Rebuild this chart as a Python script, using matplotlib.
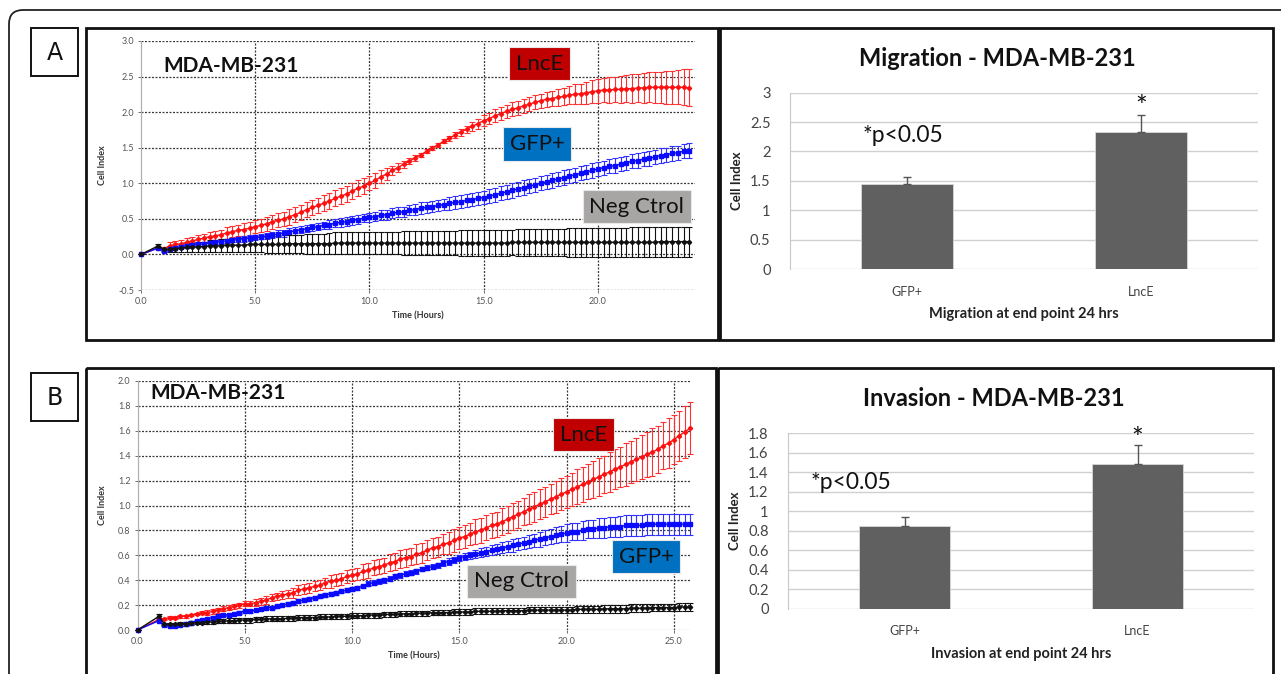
import numpy as np
import matplotlib
matplotlib.use("Agg")
import matplotlib.pyplot as plt
from matplotlib.patches import Rectangle, FancyBboxPatch
from matplotlib.transforms import Affine2D

plt.rcParams['font.family'] = ['Lato', 'DejaVu Sans']

W, H = 1281, 674

# ---------------- DATA ----------------
# Panel A (migration, real-time cell index), sampled every 15 min after the first hour
tA = [0.0, 0.75, 1.0] + [round(1.25 + 0.25 * i, 2) for i in range(92)]
lncE_A = [0.0, 0.09, 0.08,
          0.12, 0.14, 0.15, 0.17, 0.19, 0.21, 0.23, 0.25, 0.26, 0.28,
          0.30, 0.32, 0.34, 0.35, 0.37, 0.39, 0.41, 0.43, 0.46, 0.48,
          0.50, 0.53, 0.56, 0.59, 0.63, 0.66, 0.69, 0.72, 0.75, 0.79,
          0.82, 0.85, 0.89, 0.93, 0.96, 1.00, 1.04, 1.09, 1.13, 1.18,
          1.22, 1.27, 1.31, 1.36, 1.40, 1.45, 1.50, 1.54, 1.59, 1.63,
          1.68, 1.72, 1.76, 1.80, 1.84, 1.88, 1.91, 1.95, 1.98, 2.01,
          2.04, 2.06, 2.09, 2.11, 2.14, 2.16, 2.18, 2.19, 2.21, 2.22,
          2.24, 2.25, 2.26, 2.27, 2.29, 2.30, 2.31, 2.31, 2.32, 2.32,
          2.33, 2.33, 2.34, 2.34, 2.35, 2.35, 2.35, 2.35, 2.35, 2.35,
          2.35, 2.34]
lncE_A_err = [0.0, 0.01, 0.02,
              0.05, 0.05, 0.05, 0.06, 0.06, 0.06, 0.06, 0.07, 0.07, 0.07,
              0.08, 0.08, 0.08, 0.09, 0.09, 0.09, 0.09, 0.10, 0.10, 0.10,
              0.10, 0.11, 0.11, 0.11, 0.11, 0.11, 0.11, 0.11, 0.11, 0.11,
              0.11, 0.11, 0.11, 0.11, 0.11, 0.10, 0.10, 0.09, 0.08, 0.07,
              0.06, 0.05, 0.04, 0.04, 0.03, 0.03, 0.03, 0.03, 0.03, 0.04,
              0.04, 0.05, 0.05, 0.06, 0.07, 0.08, 0.08, 0.09, 0.09, 0.09,
              0.10, 0.10, 0.10, 0.10, 0.10, 0.10, 0.11, 0.11, 0.12, 0.12,
              0.13, 0.14, 0.14, 0.15, 0.16, 0.17, 0.17, 0.18, 0.18, 0.19,
              0.19, 0.20, 0.20, 0.21, 0.21, 0.22, 0.22, 0.23, 0.23, 0.24,
              0.25, 0.26]
gfp_A = [0.0, 0.09, 0.05,
         0.08, 0.09, 0.11, 0.12, 0.13, 0.14, 0.15, 0.16, 0.17, 0.18,
         0.19, 0.20, 0.21, 0.22, 0.23, 0.24, 0.25, 0.26, 0.27, 0.29,
         0.30, 0.32, 0.33, 0.35, 0.36, 0.38, 0.39, 0.41, 0.42, 0.44,
         0.45, 0.46, 0.48, 0.49, 0.51, 0.52, 0.53, 0.55, 0.56, 0.58,
         0.59, 0.60, 0.62, 0.63, 0.65, 0.66, 0.67, 0.69, 0.70, 0.72,
         0.73, 0.74, 0.76, 0.77, 0.79, 0.80, 0.82, 0.84, 0.86, 0.88,
         0.90, 0.92, 0.94, 0.96, 0.98, 1.00, 1.02, 1.04, 1.06, 1.08,
         1.10, 1.12, 1.14, 1.16, 1.18, 1.20, 1.22, 1.24, 1.25, 1.27,
         1.29, 1.31, 1.32, 1.34, 1.35, 1.37, 1.39, 1.40, 1.42, 1.43,
         1.45, 1.46]
gfp_A_err = [0.0, 0.01, 0.01,
             0.02, 0.02, 0.02, 0.03, 0.03, 0.03, 0.03, 0.03, 0.03, 0.03,
             0.03, 0.03, 0.04, 0.04, 0.04, 0.04, 0.04, 0.04, 0.04, 0.05,
             0.05, 0.05, 0.05, 0.05, 0.05, 0.05, 0.05, 0.05, 0.06, 0.06,
             0.06, 0.06, 0.06, 0.06, 0.06, 0.06, 0.06, 0.07, 0.07, 0.07,
             0.07, 0.07, 0.07, 0.08, 0.08, 0.08, 0.08, 0.08, 0.08, 0.09,
             0.09, 0.09, 0.09, 0.09, 0.09, 0.09, 0.10, 0.10, 0.10, 0.10,
             0.10, 0.10, 0.10, 0.10, 0.10, 0.10, 0.10, 0.10, 0.10, 0.10,
             0.10, 0.10, 0.10, 0.10, 0.10, 0.10, 0.10, 0.10, 0.10, 0.10,
             0.10, 0.10, 0.10, 0.10, 0.10, 0.10, 0.10, 0.10, 0.10, 0.10,
             0.10, 0.10]
neg_A = [0.0, 0.12, 0.07,
         0.07, 0.08, 0.09, 0.10, 0.10, 0.11, 0.11, 0.12, 0.12, 0.12,
         0.13, 0.13, 0.13, 0.13, 0.14, 0.14, 0.14, 0.14, 0.14, 0.14,
         0.15, 0.15, 0.15, 0.15, 0.15, 0.15, 0.15, 0.15, 0.15, 0.16,
         0.16, 0.16, 0.16, 0.16, 0.16, 0.16, 0.16, 0.16, 0.16, 0.16,
         0.16, 0.16, 0.16, 0.16, 0.16, 0.16, 0.16, 0.16, 0.16, 0.16,
         0.16, 0.16, 0.16, 0.16, 0.16, 0.16, 0.16, 0.16, 0.16, 0.16,
         0.17, 0.17, 0.17, 0.17, 0.17, 0.17, 0.17, 0.17, 0.17, 0.17,
         0.17, 0.17, 0.17, 0.17, 0.17, 0.17, 0.17, 0.17, 0.17, 0.17,
         0.17, 0.17, 0.17, 0.17, 0.17, 0.17, 0.18, 0.18, 0.18, 0.18,
         0.18, 0.18]
neg_A_err = [0.0, 0.02, 0.02,
             0.04, 0.04, 0.05, 0.06, 0.06, 0.07, 0.07, 0.08, 0.08, 0.09,
             0.09, 0.10, 0.10, 0.10, 0.11, 0.11, 0.11, 0.12, 0.12, 0.12,
             0.13, 0.13, 0.13, 0.13, 0.14, 0.14, 0.14, 0.14, 0.15, 0.15,
             0.15, 0.15, 0.15, 0.15, 0.16, 0.16, 0.16, 0.16, 0.16, 0.16,
             0.16, 0.17, 0.17, 0.17, 0.17, 0.17, 0.17, 0.17, 0.17, 0.17,
             0.17, 0.18, 0.18, 0.18, 0.18, 0.18, 0.18, 0.18, 0.18, 0.18,
             0.18, 0.19, 0.19, 0.19, 0.19, 0.19, 0.19, 0.19, 0.19, 0.19,
             0.20, 0.20, 0.20, 0.20, 0.20, 0.20, 0.20, 0.20, 0.20, 0.20,
             0.20, 0.21, 0.21, 0.21, 0.21, 0.21, 0.21, 0.21, 0.21, 0.21,
             0.21, 0.21]

# Panel B (invasion)
tB = [0.0, 1.0] + [round(1.25 + 0.25 * i, 2) for i in range(99)]
lncE_B = [0.0, 0.085,
          0.09, 0.10, 0.10, 0.11, 0.11, 0.12, 0.13, 0.14, 0.14, 0.15,
          0.16, 0.17, 0.18, 0.19, 0.20, 0.21, 0.21, 0.22, 0.23, 0.24,
          0.26, 0.27, 0.28, 0.29, 0.30, 0.32, 0.33, 0.34, 0.35, 0.36,
          0.38, 0.39, 0.40, 0.41, 0.43, 0.44, 0.45, 0.47, 0.48, 0.50,
          0.51, 0.52, 0.54, 0.55, 0.57, 0.58, 0.59, 0.61, 0.62, 0.64,
          0.66, 0.67, 0.69, 0.70, 0.72, 0.74, 0.75, 0.77, 0.79, 0.80,
          0.82, 0.84, 0.85, 0.87, 0.89, 0.91, 0.93, 0.95, 0.97, 0.99,
          1.01, 1.03, 1.05, 1.07, 1.09, 1.11, 1.13, 1.15, 1.17, 1.19,
          1.21, 1.23, 1.25, 1.27, 1.29, 1.31, 1.33, 1.35, 1.37, 1.39,
          1.41, 1.43, 1.45, 1.48, 1.50, 1.53, 1.56, 1.59, 1.62]
lncE_B_err = [0.0, 0.005,
              0.01, 0.01, 0.01, 0.01, 0.01, 0.01, 0.01, 0.01, 0.02, 0.02,
              0.02, 0.02, 0.02, 0.02, 0.02, 0.02, 0.02, 0.03, 0.03, 0.03,
              0.03, 0.03, 0.03, 0.03, 0.04, 0.04, 0.04, 0.04, 0.04, 0.04,
              0.04, 0.05, 0.05, 0.05, 0.05, 0.05, 0.05, 0.06, 0.06, 0.06,
              0.06, 0.06, 0.07, 0.07, 0.07, 0.07, 0.07, 0.08, 0.08, 0.08,
              0.08, 0.08, 0.08, 0.09, 0.09, 0.09, 0.09, 0.09, 0.10, 0.10,
              0.10, 0.10, 0.10, 0.11, 0.11, 0.11, 0.11, 0.11, 0.12, 0.12,
              0.12, 0.12, 0.12, 0.13, 0.13, 0.13, 0.13, 0.14, 0.14, 0.14,
              0.15, 0.15, 0.15, 0.16, 0.16, 0.16, 0.17, 0.17, 0.17, 0.18,
              0.18, 0.19, 0.19, 0.19, 0.20, 0.20, 0.20, 0.21, 0.21]
gfp_B = [0.0, 0.075,
         0.04, 0.035, 0.035, 0.04, 0.05, 0.06, 0.07, 0.08, 0.09, 0.10,
         0.11, 0.12, 0.12, 0.13, 0.14, 0.15, 0.15, 0.16, 0.17, 0.18,
         0.18, 0.19, 0.20, 0.21, 0.22, 0.23, 0.24, 0.25, 0.26, 0.27,
         0.28, 0.29, 0.30, 0.31, 0.32, 0.33, 0.34, 0.35, 0.37, 0.38,
         0.39, 0.40, 0.41, 0.43, 0.44, 0.45, 0.46, 0.47, 0.49, 0.50,
         0.51, 0.52, 0.54, 0.55, 0.56, 0.58, 0.59, 0.60, 0.61, 0.62,
         0.63, 0.64, 0.65, 0.66, 0.67, 0.68, 0.69, 0.70, 0.71, 0.72,
         0.73, 0.74, 0.75, 0.76, 0.77, 0.78, 0.79, 0.79, 0.80, 0.81,
         0.81, 0.82, 0.82, 0.83, 0.83, 0.83, 0.84, 0.84, 0.84, 0.84,
         0.85, 0.85, 0.85, 0.85, 0.85, 0.85, 0.85, 0.85, 0.85]
gfp_B_err = [0.0, 0.005,
             0.01, 0.01, 0.01, 0.01, 0.01, 0.01, 0.01, 0.01, 0.01, 0.01,
             0.01, 0.01, 0.01, 0.01, 0.01, 0.01, 0.01, 0.01, 0.01, 0.01,
             0.01, 0.01, 0.01, 0.015, 0.015, 0.015, 0.015, 0.015, 0.015, 0.015,
             0.015, 0.015, 0.015, 0.015, 0.015, 0.015, 0.015, 0.015, 0.02, 0.02,
             0.02, 0.02, 0.02, 0.02, 0.02, 0.02, 0.02, 0.02, 0.02, 0.02,
             0.02, 0.02, 0.025, 0.025, 0.025, 0.025, 0.03, 0.03, 0.03, 0.035,
             0.035, 0.04, 0.04, 0.045, 0.045, 0.05, 0.05, 0.05, 0.055, 0.055,
             0.06, 0.06, 0.06, 0.065, 0.065, 0.07, 0.07, 0.07, 0.075, 0.075,
             0.075, 0.08, 0.08, 0.08, 0.08, 0.085, 0.085, 0.085, 0.085, 0.085,
             0.085, 0.085, 0.085, 0.085, 0.085, 0.085, 0.085, 0.085, 0.085]
neg_B = [0.0, 0.11,
         0.05, 0.045, 0.045, 0.05, 0.05, 0.055, 0.06, 0.06, 0.065, 0.065,
         0.07, 0.07, 0.075, 0.075, 0.08, 0.08, 0.08, 0.085, 0.085, 0.09,
         0.09, 0.09, 0.09, 0.095, 0.095, 0.10, 0.10, 0.10, 0.10, 0.105,
         0.105, 0.105, 0.11, 0.11, 0.11, 0.115, 0.115, 0.115, 0.12, 0.12,
         0.12, 0.125, 0.125, 0.125, 0.13, 0.13, 0.13, 0.135, 0.135, 0.135,
         0.14, 0.14, 0.14, 0.14, 0.145, 0.145, 0.145, 0.145, 0.15, 0.15,
         0.15, 0.15, 0.15, 0.155, 0.155, 0.155, 0.155, 0.155, 0.16, 0.16,
         0.16, 0.16, 0.16, 0.16, 0.16, 0.16, 0.16, 0.165, 0.165, 0.165,
         0.165, 0.165, 0.17, 0.17, 0.17, 0.17, 0.17, 0.175, 0.175, 0.175,
         0.175, 0.18, 0.18, 0.18, 0.18, 0.18, 0.185, 0.185, 0.185]
neg_B_err = [0.0, 0.015,
             0.01, 0.01, 0.01, 0.015, 0.015, 0.015, 0.015, 0.015, 0.015, 0.015,
             0.015, 0.015, 0.02, 0.02, 0.02, 0.02, 0.02, 0.02, 0.02, 0.02,
             0.02, 0.02, 0.02, 0.02, 0.02, 0.02, 0.02, 0.02, 0.02, 0.02,
             0.02, 0.02, 0.02, 0.02, 0.02, 0.02, 0.02, 0.02, 0.02, 0.02,
             0.02, 0.02, 0.02, 0.02, 0.02, 0.02, 0.02, 0.02, 0.02, 0.02,
             0.02, 0.02, 0.02, 0.02, 0.025, 0.025, 0.025, 0.025, 0.025, 0.025,
             0.025, 0.025, 0.025, 0.025, 0.025, 0.025, 0.025, 0.025, 0.025, 0.025,
             0.025, 0.025, 0.025, 0.025, 0.025, 0.025, 0.025, 0.025, 0.025, 0.025,
             0.03, 0.03, 0.03, 0.03, 0.03, 0.03, 0.03, 0.03, 0.03, 0.03,
             0.03, 0.03, 0.03, 0.03, 0.03, 0.03, 0.03, 0.03, 0.03]

# End-point bar charts
bar_groups = ["GFP+", "LncE"]
migration_vals = [1.45, 2.33]
migration_err = [0.12, 0.29]
invasion_vals = [0.85, 1.49]
invasion_err = [0.09, 0.19]

xticksA = [0.0, 5.0, 10.0, 15.0, 20.0]
yticksA = [-0.5, 0.0, 0.5, 1.0, 1.5, 2.0, 2.5, 3.0]
xticksB = [0.0, 5.0, 10.0, 15.0, 20.0, 25.0]
yticksB = [0.0, 0.2, 0.4, 0.6, 0.8, 1.0, 1.2, 1.4, 1.6, 1.8, 2.0]
yticks_mig = [0, 0.5, 1, 1.5, 2, 2.5, 3]
yticks_inv = [0, 0.2, 0.4, 0.6, 0.8, 1, 1.2, 1.4, 1.6, 1.8]

# ---------------- FIGURE ----------------
fig = plt.figure(figsize=(W / 100, H / 100), dpi=100)
fig.patch.set_facecolor('white')
pix = Affine2D().scale(1 / W, -1 / H).translate(0, 1) + fig.transFigure


def px_axes(x0, y0, x1, y1):
    return fig.add_axes([x0 / W, 1 - y1 / H, (x1 - x0) / W, (y1 - y0) / H])


def frame(x0, y0, x1, y1, lw=2.0):
    fig.add_artist(Rectangle((x0, y0), x1 - x0, y1 - y0, transform=pix,
                             fill=False, edgecolor='#111111', linewidth=lw))


# outer rounded box (runs off the right and bottom edges)
fig.add_artist(FancyBboxPatch((9, 10), 1320, 720, boxstyle="round,pad=0,rounding_size=14",
                              transform=pix, fill=False, edgecolor='#222222', linewidth=1.3))
# panel frames
frame(86, 28, 718, 340)
frame(720, 28, 1273, 340)
frame(86, 368, 716, 700)
frame(718, 368, 1273, 700)
# panel letters
for lbl, y0 in (("A", 28), ("B", 373)):
    fig.add_artist(Rectangle((31, y0), 47, 48, transform=pix, fill=False,
                             edgecolor='#111111', linewidth=1.4))
    fig.text(54.5 / W, 1 - (y0 + 25) / H, lbl, ha='center', va='center',
             fontsize=17, family=['DejaVu Sans'], color='#111111')

GRID = dict(color='#3a3a3a', linestyle=(0, (1.6, 1.2)), linewidth=0.9)


def line_panel(ax, t, series, xlim, ylim, xticks, yticks, boxes, title_xy):
    ax.set_xlim(*xlim)
    ax.set_ylim(*ylim)
    ax.set_xticks(xticks)
    ax.set_yticks(yticks)
    ax.set_xticklabels([f"{v:.1f}" for v in xticks])
    ax.set_yticklabels([f"{v:.1f}" for v in yticks])
    ax.tick_params(labelsize=6.5, colors='#555555', length=2, width=0.6, pad=3)
    for s in ('top', 'right', 'bottom'):
        ax.spines[s].set_visible(False)
    ax.spines['left'].set_color('#b0b0b0')
    ax.spines['left'].set_linewidth(0.9)
    for yv in yticks:
        if ylim[0] == 0 and yv == 0:
            ax.axhline(yv, color='#c0c0c0', linewidth=0.9, zorder=1)
        else:
            ax.axhline(yv, zorder=1, **GRID)
    for xv in xticks[1:]:
        ax.axvline(xv, zorder=1, **GRID)
    for vals, errs, col, ecol, mk, ms in series:
        ax.errorbar(t, vals, yerr=errs, color=col, ecolor=ecol, marker=mk,
                    markersize=ms, linewidth=1.0, elinewidth=0.8, capsize=2.2,
                    capthick=0.8, zorder=3, clip_on=False)
    ax.set_xlabel("Time (Hours)", fontsize=6.5, fontweight='bold', color='#333333', labelpad=4)
    ax.set_ylabel("Cell Index", fontsize=6.5, fontweight='bold', color='#333333', labelpad=8)
    ax.text(title_xy[0], title_xy[1], "MDA-MB-231", fontsize=15, fontweight='bold',
            color='#111111', ha='left', va='center')
    for txt, x, y, fc in boxes:
        ax.text(x, y, txt, fontsize=16, ha='center', va='center', color='#111111', zorder=5,
                bbox=dict(boxstyle='square,pad=0.3', facecolor=fc, edgecolor='#e8e8e8',
                          linewidth=0.8))


axA = px_axes(141, 41, 695, 290)
line_panel(axA, tA,
           [(lncE_A, lncE_A_err, '#ff1010', '#ff3030', 'D', 2.2),
            (gfp_A, gfp_A_err, '#0a0aff', '#3030ff', 's', 3.0),
            (neg_A, neg_A_err, '#111111', '#111111', 'D', 2.2)],
           (0, 24.25), (-0.5, 3.0), xticksA, yticksA,
           [("LncE", 17.45, 2.68, '#c00000'),
            ("GFP+", 17.35, 1.55, '#0070c0'),
            ("Neg Ctrol", 21.7, 0.67, '#a8a5a5')],
           (0.96, 2.65))

axB = px_axes(137.5, 381, 690, 630)
line_panel(axB, tB,
           [(lncE_B, lncE_B_err, '#ff1010', '#ff3030', 'D', 2.2),
            (gfp_B, gfp_B_err, '#0a0aff', '#3030ff', 's', 3.0),
            (neg_B, neg_B_err, '#111111', '#111111', 'D', 2.2)],
           (0, 25.75), (0.0, 2.0), xticksB, yticksB,
           [("LncE", 20.8, 1.57, '#c00000'),
            ("GFP+", 23.7, 0.59, '#0070c0'),
            ("Neg Ctrol", 17.9, 0.39, '#a8a5a5')],
           (0.58, 1.90))


def bar_panel(ax, vals, errs, ylim, yticks, title, xlabel, ptxt_xy, star_y, title_xy):
    x = np.arange(len(bar_groups))
    ax.set_xlim(-0.5, 1.5)
    ax.set_ylim(*ylim)
    ax.set_yticks(yticks)
    ax.set_yticklabels([f"{v:g}" for v in yticks])
    ax.yaxis.grid(True, color='#d0d0d0', linewidth=1.0)
    ax.set_axisbelow(True)
    for s in ('top', 'right', 'bottom'):
        ax.spines[s].set_visible(False)
    ax.spines['left'].set_color('#c8c8c8')
    ax.tick_params(axis='y', labelsize=10.5, colors='#444444', length=0, pad=14)
    ax.tick_params(axis='x', labelsize=9, colors='#444444', length=0, pad=12)
    ax.bar(x, vals, width=0.39, color='#606060', edgecolor='#d8d8d8', linewidth=0.6, zorder=2)
    ax.errorbar(x, vals, yerr=[[0] * len(vals), errs], fmt='none', ecolor='#555555',
                elinewidth=1.0, capsize=3, capthick=1.0, zorder=3)
    ax.set_xticks(x)
    ax.set_xticklabels(bar_groups)
    ax.set_xlabel(xlabel, fontsize=10.5, fontweight='bold', color='#222222', labelpad=7)
    ax.set_ylabel("Cell Index", fontsize=9.5, fontweight='bold', color='#222222', labelpad=5)
    ax.text(ptxt_xy[0], ptxt_xy[1], "*p<0.05", fontsize=16.5, ha='left', va='center', color='#111111')
    ax.text(1, star_y, "*", fontsize=20, ha='center', va='center', color='#111111')
    fig.text(title_xy[0] / W, 1 - title_xy[1] / H, title,
             fontsize=17, fontweight='bold', ha='center', va='center', color='#111111')


axM = px_axes(790, 92.7, 1258, 269)
bar_panel(axM, migration_vals, migration_err, (0, 3), yticks_mig,
          "Migration - MDA-MB-231", "Migration at end point 24 hrs", (-0.19, 2.28), 2.74, (997, 58))

axI = px_axes(788, 433.3, 1254, 608.7)
bar_panel(axI, invasion_vals, invasion_err, (0, 1.8), yticks_inv,
          "Invasion - MDA-MB-231", "Invasion at end point 24 hrs", (-0.405, 1.30), 1.73, (994, 399))

fig.savefig("out.png", dpi=100, facecolor='white')
